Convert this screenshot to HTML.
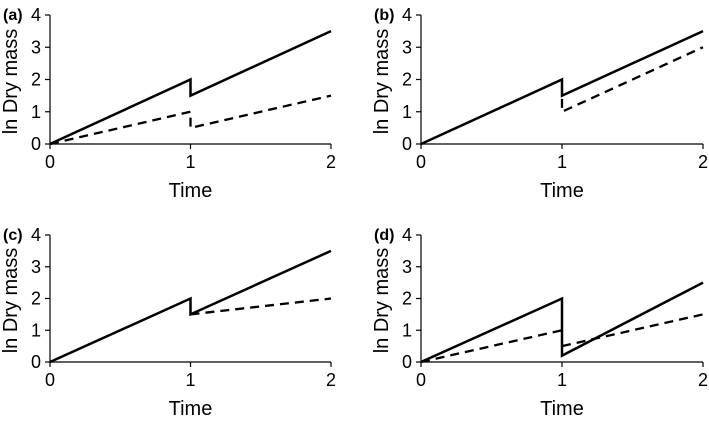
<!DOCTYPE html>
<html><head><meta charset="utf-8"><style>
html,body{margin:0;padding:0;background:#fff;}
svg{display:block;font-family:"Liberation Sans",Arial,sans-serif;}
</style></head><body>
<svg id="chart" width="709" height="422" viewBox="0 0 709 422"></svg>
<script>
const panelLabels = ["(a)","(b)","(c)","(d)"];
const xTicks = [0,1,2];
const yTicks = [0,1,2,3,4];
// each series: list of polyline segments [[t,y],...]
const solidA = [[[0,0],[1,2],[1,1.5],[2,3.5]]];
const dashedA = [[[0,0],[1,1],[1,0.5],[2,1.5]]];
const solidB = [[[0,0],[1,2],[1,1.5],[2,3.5]]];
const dashedB = [[[1,1.4],[1,1],[2,3]]];
const solidC = [[[0,0],[1,2],[1,1.5],[2,3.5]]];
const dashedC = [[[1,1.5],[2,2]]];
const solidD = [[[0,0],[1,2],[1,0.2],[2,2.5]]];
const dashedD = [[[0,0],[1,1]],[[1,0.5],[2,1.5]]];
const solids=[solidA,solidB,solidC,solidD], dashes=[dashedA,dashedB,dashedC,dashedD];
const layout=[{x0:50,x2:331,y0:144,y4:15},{x0:421,x2:703,y0:144,y4:15},{x0:50,x2:331,y0:362,y4:235},{x0:421,x2:703,y0:362,y4:235}];
const svg=document.getElementById('chart');
const NS='http://www.w3.org/2000/svg';
function mk(tag,attrs,parent){const e=document.createElementNS(NS,tag);for(const k in attrs)e.setAttribute(k,attrs[k]);(parent||svg).appendChild(e);return e;}
layout.forEach((L,i)=>{
  const g=mk('g',{});
  
  
  const sx=t=>L.x0+(L.x2-L.x0)*t/2, sy=v=>L.y0-(L.y0-L.y4)*v/4;
  const ax=mk('path',{d:`M${L.x0},${L.y4} V${L.y0} H${L.x2}`,fill:'none',stroke:'#000','stroke-width':1.2},g);
  
  
  yTicks.forEach(v=>{
    mk('line',{x1:L.x0-5,x2:L.x0,y1:sy(v),y2:sy(v),stroke:'#000','stroke-width':1.2},g);
    const t=mk('text',{x:L.x0-9,y:sy(v)+6,'text-anchor':'end','font-size':18},g);t.textContent=v;
    
    
  });
  xTicks.forEach(v=>{
    mk('line',{x1:sx(v),x2:sx(v),y1:L.y0,y2:L.y0+5,stroke:'#000','stroke-width':1.2},g);
    const t=mk('text',{x:sx(v),y:L.y0+24,'text-anchor':'middle','font-size':18},g);t.textContent=v;
    
    
  });
  const xt=mk('text',{x:(L.x0+L.x2)/2,y:L.y0+53,'text-anchor':'middle','font-size':20},g);xt.textContent='Time';
  
  
  const yc=(L.y0+L.y4)/2+2, yx=L.x0-33;
  const yt=mk('text',{x:yx,y:yc,'text-anchor':'middle','font-size':20,transform:`rotate(-90 ${yx} ${yc})`},g);yt.textContent='ln Dry mass';
  
  
  const pl=mk('text',{x:L.x0-47,y:L.y4+5,'font-size':16,'font-weight':'bold'},g);pl.textContent=panelLabels[i];
  
  
  dashes[i].forEach(seg=>{
    const p=mk('path',{d:'M'+seg.map(q=>sx(q[0])+','+sy(q[1])).join(' L'),fill:'none',stroke:'#000','stroke-width':2.3,'stroke-dasharray':'9,6'},g);
    
    
  });
  solids[i].forEach(seg=>{
    const p=mk('path',{d:'M'+seg.map(q=>sx(q[0])+','+sy(q[1])).join(' L'),fill:'none',stroke:'#000','stroke-width':2.5},g);
    
    
  });
});
</script>
</body></html>
